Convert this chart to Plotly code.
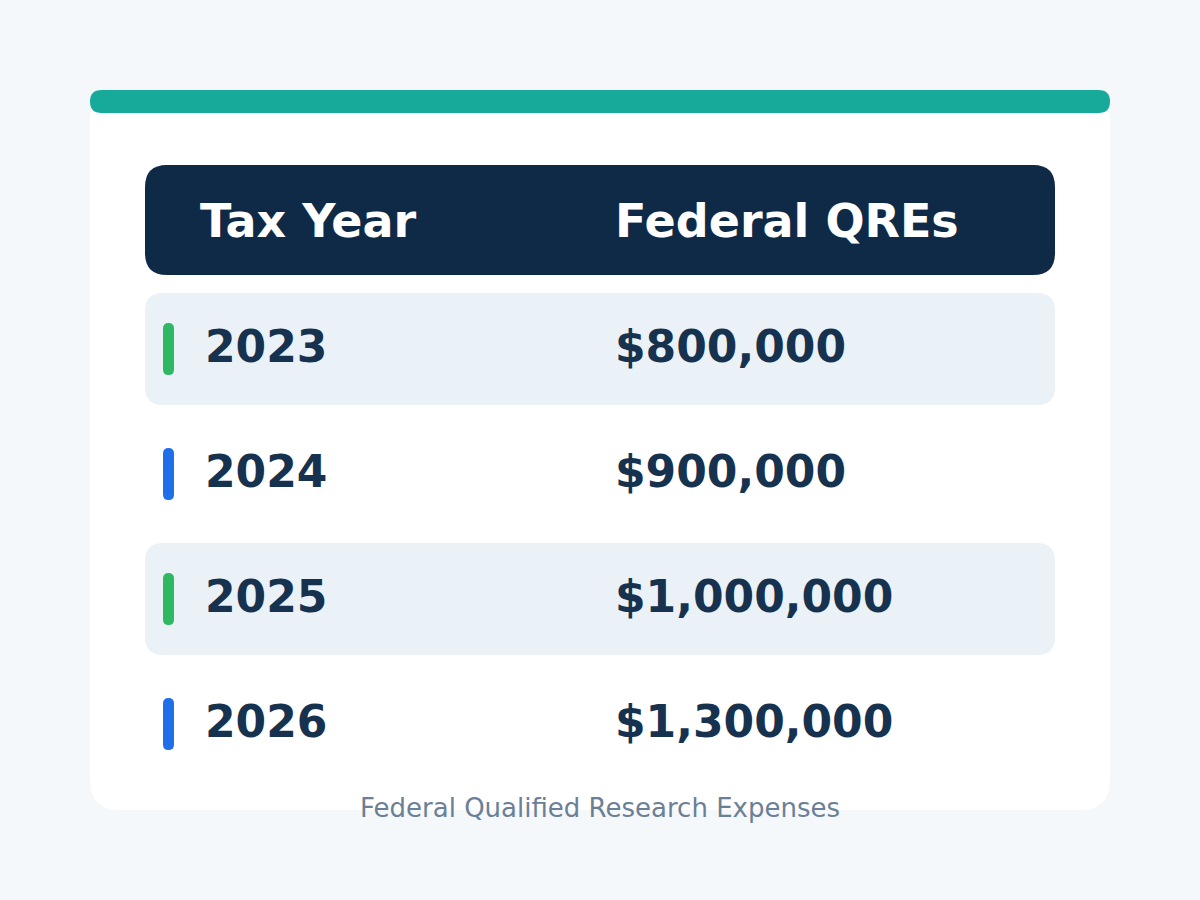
import plotly.graph_objects as go

# table content
headers = ["Tax Year", "Federal QREs"]
years = ["2023", "2024", "2025", "2026"]
qres = [800000, 900000, 1000000, 1300000]
footer = "Federal Qualified Research Expenses"

bg_colour = "#f4f8fb"
card_colour = "#ffffff"
teal = "#17a99a"
navy = "#0f2a47"
band_colour = "#eaf2f8"
text_colour = "#16324f"
footer_colour = "#6b8096"
accents = ["#2fb863", "#1f6fea"]

W, H = 1200, 900
PITCH = 125.0       # pixels per row
ROW0 = 346.0        # pixel centre of first row
COL1_X = 203        # annotations pad ~2px, so these sit 2px left of the glyphs
COL2_X = 613
HDR1_X = 198


def v(px):
    # pixel position (from top) -> row axis value
    return (px - ROW0) / PITCH


def rounded_rect(x0, x1, y0, y1, r):
    # x in pixels, y in row units, r in pixels
    ry = r / PITCH
    return (f"M {x0 + r},{y0} L {x1 - r},{y0} Q {x1},{y0} {x1},{y0 + ry} "
            f"L {x1},{y1 - ry} Q {x1},{y1} {x1 - r},{y1} "
            f"L {x0 + r},{y1} Q {x0},{y1} {x0},{y1 - ry} "
            f"L {x0},{y0 + ry} Q {x0},{y0} {x0 + r},{y0} Z")


shapes = []
# card
shapes.append(dict(type="path", path=rounded_rect(90, 1110, v(90), v(810), 30),
                   fillcolor=card_colour, line_width=0, layer="below"))
# teal strip on top of the card
shapes.append(dict(type="path", path=rounded_rect(90, 1110, v(90), v(113), 11.5),
                   fillcolor=teal, line_width=0, layer="below"))
# header block, one row above the first year
shapes.append(dict(type="path", path=rounded_rect(145, 1055, -1 - 56 / PITCH, -1 + 54 / PITCH, 22),
                   fillcolor=navy, line_width=0, layer="below"))

for i in range(len(years)):
    if i % 2 == 0:
        shapes.append(dict(type="path",
                           path=rounded_rect(145, 1055, i - 53 / PITCH, i + 59 / PITCH, 18),
                           fillcolor=band_colour, line_width=0, layer="below"))
    shapes.append(dict(type="path",
                       path=rounded_rect(163, 174, i - 23 / PITCH, i + 29 / PITCH, 5.5),
                       fillcolor=accents[i % 2], line_width=0, layer="below"))

annotations = []
hdr_font = dict(family="DejaVu Sans", size=46, color="#ffffff", weight="bold")
annotations.append(dict(x=HDR1_X, y=-1, text=headers[0], xanchor="left", yanchor="middle",
                        showarrow=False, font=hdr_font))
annotations.append(dict(x=COL2_X, y=-1, text=headers[1], xanchor="left", yanchor="middle",
                        showarrow=False, font=hdr_font))

row_font = dict(family="DejaVu Sans", size=44, color=text_colour, weight="bold")
for i in range(len(years)):
    annotations.append(dict(x=COL1_X, y=i, text=years[i], xanchor="left", yanchor="middle",
                            showarrow=False, font=row_font))
    annotations.append(dict(x=COL2_X, y=i, text="${:,}".format(qres[i]), xanchor="left",
                            yanchor="middle", showarrow=False, font=row_font))

annotations.append(dict(x=W / 2, y=v(808), text=footer, xanchor="center", yanchor="middle",
                        showarrow=False,
                        font=dict(family="DejaVu Sans", size=26, color=footer_colour)))

fig = go.Figure()
# invisible trace so the axes exist
fig.add_scatter(x=[0, W], y=[v(0), v(H)], mode="markers", marker_opacity=0,
                hoverinfo="skip", showlegend=False)

fig.update_layout(width=W, height=H, margin=dict(l=0, r=0, t=0, b=0),
                  paper_bgcolor=bg_colour, plot_bgcolor=bg_colour,
                  shapes=shapes, annotations=annotations, showlegend=False)
fig.update_xaxes(range=[0, W], visible=False, fixedrange=True)
fig.update_yaxes(range=[v(H), v(0)], visible=False, fixedrange=True)

# drop the browser's default page margin so the figure fills the window
fig.write_html("out.html", config={"displayModeBar": False},
               post_script="document.body.style.margin='0';"
                           "document.body.style.background='" + bg_colour + "';")
